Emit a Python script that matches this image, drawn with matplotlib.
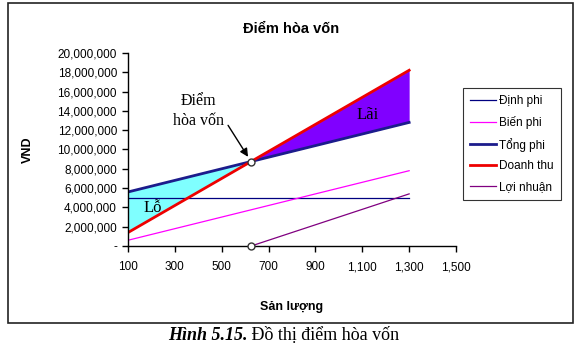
import matplotlib
matplotlib.use('Agg')
import matplotlib.pyplot as plt
from matplotlib.patches import Rectangle
from matplotlib.ticker import FuncFormatter
import numpy as np

# data
san_luong = [100, 625, 1300]
dinh_phi = [5000000, 5000000, 5000000]
bien_phi = [600000, 3750000, 7800000]
tong_phi = [5600000, 8750000, 12800000]
doanh_thu = [1400000, 8750000, 18200000]
loi_nhuan_q = [625, 1300]
loi_nhuan = [0, 5400000]
hoa_von = (625, 8750000)

x_ticks = [100, 300, 500, 700, 900, 1100, 1300, 1500]
y_ticks = list(range(0, 20000001, 2000000))

plt.rcParams['font.family'] = ['Liberation Sans', 'DejaVu Sans']

fig = plt.figure(figsize=(5.82, 3.48), dpi=100)
ax = fig.add_axes([0.22, 0.293, 0.5635, 0.555])

q = np.array(san_luong)
tp = np.array(tong_phi)
dt = np.array(doanh_thu)

# vung lo / lai
ax.fill_between(q[:2], tp[:2], dt[:2], color='#7fffff', lw=0)
ax.fill_between(q[1:], tp[1:], dt[1:], color='#8000ff', lw=0)

ax.plot(san_luong, dinh_phi, color='#000080', lw=0.9, label='Định phi')
ax.plot(san_luong, bien_phi, color='#ff00ff', lw=0.9, label='Biến phi')
ax.plot(san_luong, tong_phi, color='#1c1c8c', lw=2, label='Tổng phi')
ax.plot(san_luong, doanh_thu, color='#ee0000', lw=2, label='Doanh thu')
ax.plot(loi_nhuan_q, loi_nhuan, color='#800080', lw=0.9, label='Lợi nhuận')

ax.plot(*hoa_von, 'o', ms=5, mfc='white', mec='#333333', mew=1, zorder=5)
ax.plot(loi_nhuan_q[0], loi_nhuan[0], 'o', ms=5, mfc='white', mec='#333333',
        mew=1, zorder=5, clip_on=False)

ax.set_xlim(100, 1500)
ax.set_ylim(0, 20000000)
ax.set_xticks(x_ticks)
ax.set_yticks(y_ticks)
ax.xaxis.set_major_formatter(FuncFormatter(lambda v, p: f'{int(v):,}'))
ax.yaxis.set_major_formatter(FuncFormatter(lambda v, p: '-' if v == 0 else f'{int(v):,}'))
ax.tick_params(labelsize=8.5, direction='out', length=4, width=1, pad=4)
ax.tick_params(axis='x', pad=7)
for s in ['top', 'right']:
    ax.spines[s].set_visible(False)
for s in ['left', 'bottom']:
    ax.spines[s].set_linewidth(1)

ax.set_xlabel('Sản lượng', fontsize=9, fontweight='bold', labelpad=20)
ax.set_ylabel('VND', fontsize=9, fontweight='bold', labelpad=17)
fig.text(0.5, 0.918, 'Điểm hòa vốn', ha='center', va='center',
         fontsize=10.5, fontweight='bold')

serif = ['Liberation Serif', 'DejaVu Serif']
ax.text(164, 3900000, 'Lỗ', fontsize=12, family=serif, va='center', ha='left')
ax.text(1124, 13600000, 'Lãi', fontsize=12, family=serif, va='center', ha='center')
ax.text(400, 14000000, 'Điểm\nhòa vốn', ha='center', va='center', fontsize=11.5,
        family=serif, linespacing=1.3)
ax.annotate('', xy=hoa_von, xytext=(527, 12500000),
            arrowprops=dict(arrowstyle='-|>', color='black', lw=1,
                            shrinkA=0, shrinkB=4, mutation_scale=12))

leg = ax.legend(loc='upper left', bbox_to_anchor=(1.021, 0.819), fontsize=8.5,
                frameon=True, fancybox=False, edgecolor='black', handlelength=2.2,
                borderpad=0.6, labelspacing=0.75, handletextpad=0.3,
                borderaxespad=0)
leg.get_frame().set_linewidth(0.8)

# khung bieu do
fig.patches.append(Rectangle((8 / 582, 1 - 323 / 348), 565 / 582, 320 / 348,
                             transform=fig.transFigure, fill=False,
                             edgecolor='#222222', lw=1.2))

# chu thich hinh
cap_y = 1 - 335 / 348
cap = fig.text(168 / 582, cap_y, 'Hình 5.15.', family=serif, fontsize=13,
               fontweight='bold', style='italic', ha='left', va='center')
fig.canvas.draw()
bb = cap.get_window_extent().transformed(fig.transFigure.inverted())
fig.text(bb.x1, cap_y, ' Đồ thị điểm hòa vốn', family=serif, fontsize=13,
         ha='left', va='center')

fig.savefig('out.png', dpi=100)
